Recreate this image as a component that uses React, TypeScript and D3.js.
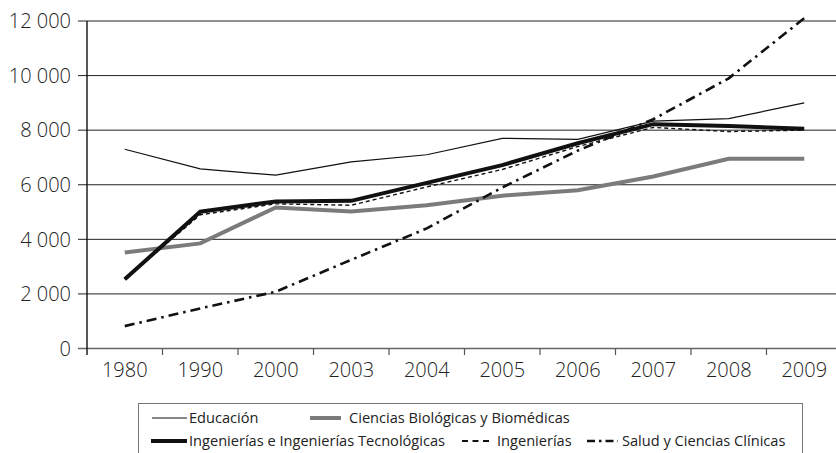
import React from "react";
import * as d3 from "d3";

const years = ["1980", "1990", "2000", "2003", "2004", "2005", "2006", "2007", "2008", "2009"];
const yTicks = [0, 2000, 4000, 6000, 8000, 10000, 12000];

const educacion = [7300, 6580, 6350, 6840, 7100, 7700, 7660, 8330, 8420, 9000];
const cienciasBio = [3520, 3850, 5170, 5020, 5250, 5600, 5800, 6300, 6950, 6950];
const ingTec = [2540, 5010, 5390, 5410, 6070, 6720, 7520, 8220, 8150, 8050];
const ingenierias = [2540, 4900, 5300, 5250, 5920, 6560, 7400, 8100, 7950, 8000];
const salud = [820, 1470, 2080, 3250, 4400, 5900, 7250, 8400, 9900, 12100];

const seriesNames = [
  "Educación",
  "Ciencias Biológicas y Biomédicas",
  "Ingenierías e Ingenierías Tecnológicas",
  "Ingenierías",
  "Salud y Ciencias Clínicas",
];

const W = 836;
const H = 453;

const styles = [
  { color: "#111", width: 1.2, dash: "" },
  { color: "#7b7b7b", width: 4, dash: "" },
  { color: "#111", width: 4, dash: "" },
  { color: "#111", width: 1.4, dash: "4,3" },
  { color: "#111", width: 2.6, dash: "10,5,2.5,5" },
];

export default function App() {
  const x = d3.scaleBand<string>().domain(years).range([87, 842]);
  const y = d3.scaleLinear().domain([0, 12000]).range([348.5, 21]);
  const cx = (d: string) => (x(d) as number) + x.bandwidth() / 2;

  const data = [educacion, cienciasBio, ingTec, ingenierias, salud];
  const line = d3
    .line<number>()
    .x((_, i) => cx(years[i]))
    .y((v) => y(v));

  const fmt = (v: number) => d3.format(",")(v).replace(",", " ");
  const tickFont = "'Open Sans', sans-serif";
  const legendFont = "'Open Sans', sans-serif";

  const legendItems = [
    { s: 0, x1: 152, x2: 187, tx: 189, y: 418 },
    { s: 1, x1: 310, x2: 341, tx: 349, y: 418 },
    { s: 2, x1: 151, x2: 187, tx: 189, y: 441 },
    { s: 3, x1: 462, x2: 493, tx: 497, y: 441 },
    { s: 4, x1: 587, x2: 618, tx: 622, y: 441 },
  ];

  return (
    <svg
      width={W}
      height={H}
      style={{ position: "absolute", left: 0, top: 0, background: "#fff" }}
    >
      {yTicks.map((t) => (
        <line
          key={t}
          x1={78}
          x2={W}
          y1={y(t)}
          y2={y(t)}
          stroke={t === 0 ? "#666" : "#222"}
          strokeWidth={t === 0 ? 1.4 : 1}
        />
      ))}
      {yTicks.map((t) => (
        <text
          key={"l" + t}
          x={71}
          y={y(t)}
          dy="0.36em"
          textAnchor="end"
          fontFamily={tickFont}
          fontWeight={300}
          fontSize={20}
          fill="#222"
        >
          {t === 0 ? "0" : fmt(t)}
        </text>
      ))}
      <line x1={87} x2={87} y1={21} y2={355} stroke="#111" strokeWidth={1.4} />
      {years.map((yr) => (
        <line
          key={"t" + yr}
          x1={(x(yr) as number) + x.bandwidth()}
          x2={(x(yr) as number) + x.bandwidth()}
          y1={348.5}
          y2={355}
          stroke="#555"
          strokeWidth={1.2}
        />
      ))}
      {years.map((yr) => (
        <text
          key={"x" + yr}
          x={cx(yr)}
          y={377}
          textAnchor="middle"
          fontFamily={tickFont}
          fontWeight={300}
          fontSize={20}
          fill="#222"
        >
          {yr}
        </text>
      ))}
      {[1, 0, 3, 2, 4].map((si) => (
        <path
          key={"s" + si}
          d={line(data[si]) as string}
          fill="none"
          stroke={styles[si].color}
          strokeWidth={styles[si].width}
          strokeDasharray={styles[si].dash || undefined}
          strokeLinejoin="miter"
        />
      ))}
      <rect x={138.5} y={403.5} width={664} height={70} fill="#fff" stroke="#777" strokeWidth={1} />
      {legendItems.map((it) => (
        <g key={"lg" + it.s}>
          <line
            x1={it.x1}
            x2={it.x2}
            y1={it.y}
            y2={it.y}
            stroke={styles[it.s].color}
            strokeWidth={it.s === 3 ? 2 : styles[it.s].width}
            strokeDasharray={it.s === 4 ? "8,4,2.5,4" : it.s === 3 ? "6,4.5" : undefined}
          />
          <text
            x={it.tx}
            y={it.y}
            dy="0.36em"
            fontFamily={legendFont}
            fontSize={14.6}
            fill="#222"
          >
            {seriesNames[it.s]}
          </text>
        </g>
      ))}
    </svg>
  );
}
